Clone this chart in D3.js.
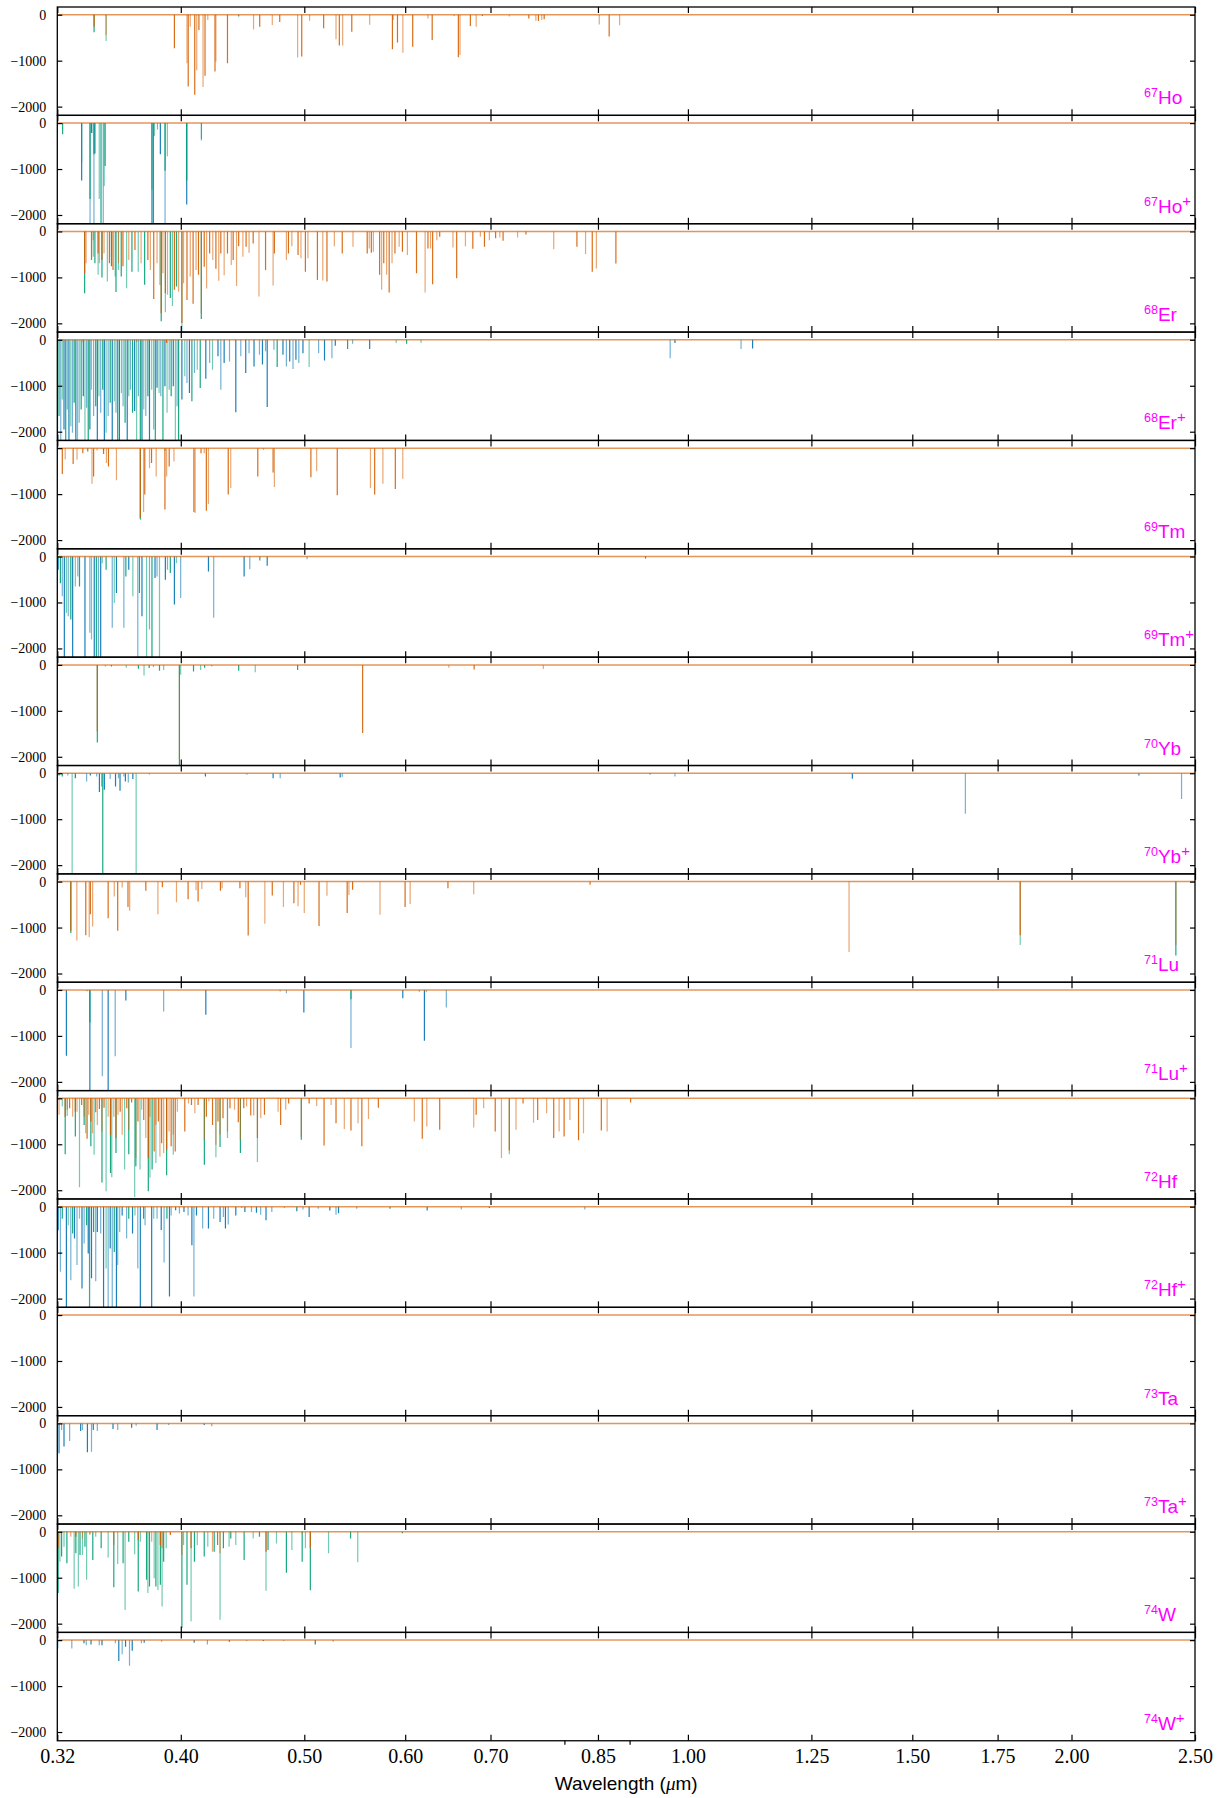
<!DOCTYPE html>
<html>
<head>
<meta charset="utf-8">
<script src="https://cdn.jsdelivr.net/npm/d3@7"></script>
<style>
  body { margin: 0; background: #fff; }
  svg { display: block; }
</style>
</head>
<body>
<div id="chart"></div>
<script>
// panel labels
const massNumbers = [67, 67, 68, 68, 69, 69, 70, 70, 71, 71, 72, 72, 73, 73, 74, 74];
const symbols = ["Ho", "Ho", "Er", "Er", "Tm", "Tm", "Yb", "Yb", "Lu", "Lu", "Hf", "Hf", "Ta", "Ta", "W", "W"];
const ionised = [false, true, false, true, false, true, false, true, false, true, false, true, false, true, false, true];

const xTicks = [0.32, 0.40, 0.50, 0.60, 0.70, 0.85, 1.00, 1.25, 1.50, 1.75, 2.00, 2.50];
const xMinorTicks = [0.8, 0.9];
const yTicks = [0, -1000, -2000];

// lines: [wavelength (um), depth]
const hoOrange = [[0.342,-260],[0.3495,-440],[0.3954,-730],[0.4045,-1055],[0.4054,-1560],[0.4069,-260],[0.4102,-1740],[0.4117,-1210],[0.4133,-330],[0.4164,-1575],[0.4179,-1330],[0.42,-115],[0.4255,-1235],[0.4262,-1020],[0.4352,-1055],[0.4562,-320],[0.4613,-260],[0.4719,-225],[0.4783,-160],[0.494,-930],[0.4977,-910],[0.5048,-130],[0.5178,-295],[0.5295,-535],[0.5327,-670],[0.5359,-670],[0.5448,-370],[0.5627,-220],[0.5863,-750],[0.5872,-115],[0.5917,-605],[0.5975,-825],[0.6082,-695],[0.6252,-80],[0.63,-550],[0.6555,-30],[0.6605,-925],[0.6625,-875],[0.675,-245],[0.6821,-260],[0.6898,-30],[0.7242,-40],[0.7502,-80],[0.7598,-130],[0.7633,-135],[0.7679,-115],[0.7713,-100],[0.852,-215],[0.8674,-475],[0.8839,-230]];
const hoGreen = [[0.342,-380],[0.3495,-570],[0.4441,-40]];
const hoBlue = [];

const hoPlusOrange = [];
const hoPlusGreen = [[0.3231,-245],[0.3344,-860],[0.3395,-1650],[0.3405,-210],[0.3419,-680],[0.3452,-1650],[0.3463,-2300],[0.3483,-1370],[0.3489,-935],[0.3797,-1450],[0.3807,-2300],[0.3814,-280],[0.3888,-1040],[0.3904,-720],[0.4043,-1250],[0.4152,-340]];
const hoPlusBlue = [[0.3344,-1250],[0.3395,-2300],[0.3405,-215],[0.3419,-2300],[0.3425,-660],[0.3477,-2300],[0.3797,-2300],[0.3835,-140],[0.3855,-680],[0.3888,-2300],[0.4043,-1770],[0.4152,-380]];

const erOrange = [[0.3362,-910],[0.3371,-690],[0.3404,-620],[0.3415,-190],[0.3445,-480],[0.3453,-690],[0.3469,-620],[0.3482,-480],[0.3516,-690],[0.3529,-550],[0.3539,-840],[0.3574,-690],[0.3603,-760],[0.3641,-620],[0.3682,-405],[0.3723,-690],[0.3769,-620],[0.3786,-840],[0.3809,-1470],[0.3832,-690],[0.3861,-1780],[0.3873,-910],[0.389,-1345],[0.3905,-1380],[0.3954,-1270],[0.3984,-1310],[0.4008,-1990],[0.402,-1130],[0.4045,-1490],[0.4069,-980],[0.409,-1575],[0.4112,-840],[0.413,-945],[0.4151,-1780],[0.4173,-770],[0.4191,-1240],[0.4214,-480],[0.4238,-620],[0.4262,-810],[0.4284,-1075],[0.43,-480],[0.4326,-955],[0.4352,-480],[0.4382,-730],[0.4397,-620],[0.4424,-1185],[0.4441,-320],[0.4475,-550],[0.4501,-335],[0.4525,-465],[0.4559,-260],[0.4607,-1415],[0.4662,-840],[0.4726,-1175],[0.4737,-480],[0.4841,-620],[0.4859,-480],[0.4889,-320],[0.4944,-515],[0.497,-585],[0.501,-875],[0.5033,-585],[0.512,-1055],[0.517,-1070],[0.5209,-1090],[0.5279,-320],[0.5355,-480],[0.546,-335],[0.5602,-480],[0.5623,-370],[0.5644,-465],[0.5665,-440],[0.5729,-945],[0.575,-1270],[0.5772,-690],[0.5802,-945],[0.5829,-1330],[0.5859,-690],[0.589,-480],[0.5935,-335],[0.597,-440],[0.6024,-510],[0.6124,-910],[0.622,-1330],[0.6252,-370],[0.6281,-370],[0.6305,-1150],[0.6353,-190],[0.6386,-115],[0.6541,-350],[0.6585,-1020],[0.669,-320],[0.678,-375],[0.6873,-115],[0.6924,-335],[0.6986,-190],[0.7065,-150],[0.7119,-130],[0.7161,-200],[0.7351,-130],[0.7463,-65],[0.7847,-390],[0.8183,-335],[0.8312,-490],[0.8413,-875],[0.8476,-805],[0.878,-695]];
const erGreen = [[0.3362,-1345],[0.3415,-550],[0.3425,-690],[0.3445,-945],[0.3469,-1000],[0.3503,-1090],[0.3529,-760],[0.3553,-980],[0.3558,-1320],[0.3574,-840],[0.3592,-980],[0.3627,-1235],[0.3662,-875],[0.3704,-875],[0.3747,-1160],[0.3852,-1165],[0.3861,-1955],[0.389,-1760],[0.3925,-1450],[0.394,-1620],[0.3969,-1200],[0.4008,-2180],[0.4151,-1905]];
const erBlue = [];

const erPlusOrange = [[0.3354,-60],[0.3693,-50],[0.3899,-70]];
const erPlusGreen = [[0.321,-1660],[0.3229,-1300],[0.3249,-2300],[0.3279,-1880],[0.3299,-1370],[0.3319,-2300],[0.3341,-1515],[0.3364,-2300],[0.3384,-2300],[0.3404,-1085],[0.343,-1445],[0.345,-1230],[0.3474,-1085],[0.3495,-2020],[0.3521,-1370],[0.3547,-1335],[0.3569,-2300],[0.3593,-1155],[0.3617,-1805],[0.3641,-1230],[0.3666,-1590],[0.3693,-2300],[0.3718,-2300],[0.3741,-1515],[0.3769,-1230],[0.3795,-1085],[0.382,-2300],[0.3846,-1155],[0.3873,-2300],[0.3902,-1590],[0.3931,-1230],[0.3961,-2300],[0.3984,-2300],[0.4029,-795],[0.4081,-1335],[0.4121,-650],[0.4143,-1050],[0.4236,-650],[0.4761,-590],[0.5044,-590],[0.5407,-200],[0.5903,-70],[0.6015,-85],[0.6174,-70]];
const erPlusBlue = [[0.3201,-2300],[0.322,-2300],[0.3239,-1950],[0.3258,-1515],[0.3268,-2300],[0.3289,-2020],[0.3309,-2300],[0.3329,-1805],[0.3354,-1230],[0.3374,-1480],[0.3394,-1950],[0.3417,-1660],[0.344,-2300],[0.3461,-1590],[0.3484,-2300],[0.3508,-1660],[0.3534,-2300],[0.3558,-1590],[0.358,-2300],[0.3604,-1445],[0.3631,-2300],[0.3652,-1085],[0.368,-1550],[0.3705,-1230],[0.3729,-2300],[0.3755,-1660],[0.378,-2300],[0.3809,-1950],[0.3832,-1045],[0.3858,-1230],[0.3887,-1010],[0.3917,-1085],[0.3946,-1010],[0.3973,-1445],[0.4008,-1300],[0.4045,-940],[0.4063,-1155],[0.41,-720],[0.4185,-850],[0.4214,-505],[0.4278,-360],[0.43,-1085],[0.4326,-505],[0.4368,-470],[0.4418,-1575],[0.4458,-360],[0.4498,-720],[0.4525,-290],[0.4566,-580],[0.4611,-325],[0.4636,-540],[0.4662,-250],[0.4676,-1460],[0.4733,-215],[0.4811,-325],[0.4841,-580],[0.487,-470],[0.4899,-635],[0.4925,-435],[0.4951,-505],[0.4988,-290],[0.5131,-290],[0.5186,-450],[0.5256,-400],[0.5288,-130],[0.5456,-85],[0.5627,-200],[0.9685,-400],[0.9769,-70],[1.1008,-200],[1.124,-190]];

const tmOrange = [[0.3229,-565],[0.3246,-240],[0.3293,-345],[0.3316,-250],[0.3351,-110],[0.3407,-775],[0.3417,-615],[0.3438,-50],[0.3479,-125],[0.3497,-325],[0.351,-400],[0.3561,-700],[0.3718,-1515],[0.374,-1390],[0.3748,-1010],[0.378,-435],[0.3794,-325],[0.3826,-615],[0.3887,-1335],[0.3899,-615],[0.3917,-400],[0.3951,-290],[0.4096,-1390],[0.4105,-1410],[0.4149,-110],[0.4173,-110],[0.4189,-1360],[0.4205,-1215],[0.4358,-1010],[0.4378,-865],[0.4597,-615],[0.4645,-40],[0.4726,-530],[0.4737,-845],[0.506,-635],[0.5113,-505],[0.5307,-1025],[0.5635,-865],[0.5678,-1010],[0.5763,-775],[0.5894,-890],[0.5974,-665]];
const tmGreen = [[0.3381,-70],[0.3479,-60],[0.3718,-1550],[0.3887,-60]];
const tmBlue = [];

const tmPlusOrange = [];
const tmPlusGreen = [[0.3218,-580],[0.3253,-1230],[0.3279,-1370],[0.3306,-650],[0.3331,-650],[0.3404,-1805],[0.3434,-2300],[0.3471,-145],[0.3495,-290],[0.3547,-1010],[0.3622,-435],[0.3668,-865],[0.3712,-795],[0.376,-2300],[0.3797,-2300],[0.3849,-2300],[0.3925,-360],[0.3969,-145],[0.4614,-85]];
const tmPlusBlue = [[0.3205,-290],[0.3229,-865],[0.3241,-2300],[0.3264,-1300],[0.329,-2300],[0.3321,-435],[0.3364,-2300],[0.3394,-1660],[0.3421,-2300],[0.3447,-2300],[0.3461,-2300],[0.3534,-1550],[0.3561,-795],[0.3609,-1550],[0.3641,-290],[0.3701,-2300],[0.3729,-1300],[0.378,-1590],[0.3818,-470],[0.3832,-435],[0.389,-505],[0.3905,-290],[0.3954,-1045],[0.3999,-900],[0.4205,-325],[0.4245,-1335],[0.4485,-435],[0.4531,-275],[0.4676,-200],[0.5025,-60],[0.9263,-45]];

const ybOrange = [[0.344,-1445],[0.399,-2060],[0.5556,-1480],[0.6492,-60],[0.6796,-100],[0.7701,-90]];
const ybGreen = [[0.344,-1690],[0.349,-35],[0.3529,-35],[0.3625,-60],[0.3705,-85],[0.3743,-230],[0.3778,-70],[0.3807,-45],[0.3849,-130],[0.3878,-110],[0.399,-2300],[0.3999,-215],[0.4093,-145],[0.4146,-110],[0.4176,-60],[0.423,-35],[0.4441,-130],[0.4576,-160],[0.494,-110]];
const ybBlue = [];

const ybPlusOrange = [];
const ybPlusGreen = [[0.3229,-70],[0.3287,-2300],[0.3474,-2300],[0.369,-2300]];
const ybPlusBlue = [[0.321,-50],[0.3261,-50],[0.3306,-110],[0.3374,-180],[0.3397,-50],[0.3436,-70],[0.3453,-410],[0.3467,-290],[0.3484,-360],[0.3521,-125],[0.3555,-290],[0.3574,-110],[0.3584,-380],[0.3609,-70],[0.3619,-180],[0.3638,-200],[0.3668,-125],[0.378,-25],[0.4182,-70],[0.4508,-35],[0.4726,-110],[0.4787,-110],[0.5335,-95],[0.5355,-80],[0.934,-25],[0.9769,-70],[1.346,-120],[1.651,-880],[2.259,-50],[2.44,-560]];

const luOrange = [[0.3279,-1070],[0.3315,-1280],[0.3369,-1170],[0.339,-1205],[0.3397,-710],[0.3411,-975],[0.3508,-795],[0.3547,-325],[0.3569,-1070],[0.3598,-130],[0.3636,-555],[0.3647,-635],[0.3755,-200],[0.3838,-710],[0.3869,-125],[0.3969,-450],[0.4053,-385],[0.4112,-190],[0.4127,-435],[0.4155,-160],[0.4297,-200],[0.431,-145],[0.4451,-145],[0.4498,-340],[0.4518,-1175],[0.4656,-915],[0.4719,-305],[0.4815,-550],[0.4907,-470],[0.4944,-535],[0.4966,-70],[0.5,-685],[0.5135,-965],[0.5209,-310],[0.5403,-685],[0.542,-290],[0.5456,-175],[0.5733,-720],[0.5999,-550],[0.6054,-485],[0.6482,-145],[0.6791,-275],[0.838,-70],[1.338,-1530],[1.823,-1170],[2.415,-1380]];
const luGreen = [[0.3279,-1120],[1.823,-1380],[2.415,-1610]];
const luBlue = [];

const luPlusOrange = [];
const luPlusGreen = [[0.3394,-700],[0.4787,-35],[0.544,-200],[0.6234,-50]];
const luPlusBlue = [[0.3253,-1430],[0.3377,-30],[0.3394,-2300],[0.3471,-1880],[0.3508,-2300],[0.3553,-1445],[0.3622,-230],[0.3878,-470],[0.4185,-540],[0.4841,-70],[0.4996,-490],[0.544,-1265],[0.5974,-180],[0.6155,-40],[0.6212,-1105],[0.6463,-380]];

const hfOrange = [[0.32,-720],[0.321,-360],[0.3246,-400],[0.3258,-250],[0.3272,-215],[0.329,-400],[0.3306,-290],[0.3316,-290],[0.3344,-145],[0.3359,-400],[0.3377,-880],[0.3387,-360],[0.34,-505],[0.341,-760],[0.343,-305],[0.344,-580],[0.3453,-230],[0.3469,-720],[0.3482,-205],[0.3508,-400],[0.3523,-795],[0.3544,-400],[0.3558,-865],[0.3571,-360],[0.3585,-290],[0.3598,-795],[0.3628,-215],[0.3641,-690],[0.366,-90],[0.3688,-1300],[0.3702,-505],[0.3727,-250],[0.3741,-470],[0.3755,-865],[0.3772,-1300],[0.3783,-400],[0.3812,-1155],[0.3824,-580],[0.3841,-505],[0.3852,-1265],[0.3864,-975],[0.3878,-1190],[0.3899,-1120],[0.3916,-720],[0.3931,-1045],[0.3946,-795],[0.396,-1155],[0.3975,-290],[0.4029,-720],[0.4056,-110],[0.4078,-145],[0.4103,-325],[0.4127,-145],[0.4174,-905],[0.4189,-400],[0.4208,-70],[0.4236,-580],[0.4262,-1010],[0.4278,-505],[0.4294,-795],[0.4317,-435],[0.4352,-720],[0.4372,-215],[0.4408,-250],[0.4438,-520],[0.4455,-905],[0.4482,-215],[0.4505,-180],[0.4539,-375],[0.4563,-375],[0.4594,-865],[0.4622,-435],[0.4653,-360],[0.4769,-290],[0.4791,-580],[0.4835,-250],[0.4861,-110],[0.4973,-830],[0.5044,-110],[0.5113,-165],[0.5182,-1025],[0.5248,-145],[0.5295,-540],[0.5375,-665],[0.544,-700],[0.551,-540],[0.5548,-1045],[0.5615,-450],[0.5716,-205],[0.61,-505],[0.6188,-880],[0.6239,-615],[0.6386,-685],[0.6791,-635],[0.6821,-360],[0.6914,-215],[0.706,-720],[0.714,-1300],[0.7242,-1135],[0.733,-685],[0.7424,-110],[0.7566,-530],[0.7623,-470],[0.7747,-325],[0.7847,-865],[0.7924,-720],[0.7996,-830],[0.808,-470],[0.8207,-915],[0.8281,-760],[0.8552,-700],[0.8642,-720],[0.9017,-90]];
const hfGreen = [[0.32,-1190],[0.3229,-180],[0.3246,-1215],[0.3258,-385],[0.3306,-830],[0.3331,-1935],[0.3359,-580],[0.3369,-760],[0.34,-1045],[0.342,-1230],[0.3469,-1830],[0.3495,-2020],[0.3523,-1625],[0.3531,-1720],[0.3558,-1190],[0.3614,-1550],[0.3641,-1215],[0.368,-2150],[0.3688,-1480],[0.3716,-1550],[0.3772,-2020],[0.3783,-1730],[0.3798,-1550],[0.3824,-1410],[0.3899,-1675],[0.3946,-1230],[0.4174,-1445],[0.4262,-1285],[0.4294,-1060],[0.4352,-865],[0.4455,-1190],[0.4594,-1385],[0.4973,-900],[0.7242,-1215]];
const hfBlue = [];

const hfPlusOrange = [];
const hfPlusGreen = [[0.3229,-260],[0.3264,-405],[0.329,-585],[0.3331,-260],[0.3374,-405],[0.3392,-2300],[0.3417,-550],[0.3495,-1345],[0.3547,-985],[0.3569,-1270],[0.3641,-260],[0.3682,-190],[0.374,-260],[0.3809,-260],[0.3901,-260],[0.4823,-30],[0.5837,-45]];
const hfPlusBlue = [[0.3205,-515],[0.3218,-1415],[0.3253,-2300],[0.3279,-1600],[0.3301,-690],[0.3316,-1270],[0.3346,-1780],[0.3359,-800],[0.3384,-1020],[0.3392,-2300],[0.3404,-1560],[0.343,-1620],[0.344,-550],[0.3461,-585],[0.3479,-2300],[0.3508,-2300],[0.3521,-910],[0.3534,-2300],[0.3561,-2300],[0.3582,-550],[0.3598,-190],[0.3627,-695],[0.3666,-585],[0.3701,-1345],[0.3718,-2300],[0.375,-405],[0.3795,-2300],[0.3832,-260],[0.3861,-510],[0.3881,-1215],[0.3919,-1955],[0.3931,-190],[0.3963,-80],[0.399,-150],[0.4023,-115],[0.4053,-190],[0.4081,-840],[0.4096,-1955],[0.4115,-190],[0.4161,-475],[0.4205,-475],[0.4245,-260],[0.4294,-335],[0.432,-225],[0.4336,-475],[0.4358,-390],[0.4418,-190],[0.4465,-30],[0.4491,-115],[0.4545,-115],[0.4586,-130],[0.4621,-175],[0.4666,-295],[0.4715,-115],[0.4933,-100],[0.4988,-60],[0.5044,-225],[0.5128,-45],[0.5236,-85],[0.5295,-175],[0.5319,-145],[0.5497,-45],[0.6243,-85],[0.664,-60],[0.6986,-30],[0.83,-60]];

const taOrange = [];
const taGreen = [];
const taBlue = [];

const taPlusOrange = [];
const taPlusGreen = [];
const taPlusBlue = [[0.321,-650],[0.3225,-145],[0.3239,-505],[0.3272,-385],[0.3338,-165],[0.3349,-145],[0.3379,-630],[0.3404,-615],[0.3415,-145],[0.344,-165],[0.3539,-120],[0.3569,-145],[0.366,-95],[0.369,-50],[0.3832,-145],[0.3913,-35],[0.4173,-35],[0.423,-60]];

const wOrange = [[0.3205,-360],[0.3279,-110],[0.3309,-110],[0.3349,-145],[0.3394,-60],[0.3544,-290],[0.3704,-180],[0.3795,-215],[0.3855,-290],[0.3867,-360],[0.3925,-70],[0.4008,-505],[0.4075,-360],[0.4236,-435],[0.4275,-290],[0.4294,-470],[0.4666,-435],[0.4981,-35],[0.5055,-360]];
const wGreen = [[0.3205,-1335],[0.3215,-650],[0.3225,-540],[0.3239,-325],[0.3256,-685],[0.3299,-1240],[0.3309,-470],[0.3324,-1190],[0.3334,-505],[0.3349,-505],[0.3364,-325],[0.3374,-1045],[0.3412,-615],[0.343,-110],[0.3464,-360],[0.3508,-560],[0.3544,-1210],[0.3569,-700],[0.3604,-685],[0.3617,-1700],[0.3641,-215],[0.368,-490],[0.3704,-1300],[0.3718,-215],[0.376,-1045],[0.3769,-1335],[0.378,-1190],[0.3812,-1010],[0.3824,-1190],[0.3838,-1265],[0.3855,-1155],[0.3867,-1625],[0.3878,-650],[0.3896,-360],[0.4008,-2095],[0.402,-290],[0.4045,-1155],[0.4075,-1950],[0.41,-650],[0.4121,-290],[0.4173,-540],[0.42,-325],[0.4249,-435],[0.4294,-1915],[0.432,-360],[0.4365,-325],[0.4378,-145],[0.4418,-290],[0.4485,-615],[0.4559,-145],[0.4611,-110],[0.4666,-1285],[0.4683,-395],[0.4755,-255],[0.4841,-890],[0.4889,-395],[0.4981,-650],[0.501,-360],[0.5055,-1275],[0.5224,-470],[0.5436,-145],[0.5507,-665],[0.597,-35]];
const wBlue = [];

const wPlusOrange = [];
const wPlusGreen = [];
const wPlusBlue = [[0.3202,-180],[0.3285,-180],[0.3358,-70],[0.3372,-110],[0.3401,-95],[0.3452,-110],[0.3469,-110],[0.3554,-70],[0.3576,-455],[0.3598,-310],[0.362,-145],[0.3646,-560],[0.3664,-230],[0.3725,-70],[0.3744,-55],[0.3864,-35],[0.4098,-55],[0.4197,-95],[0.4367,-35],[0.4506,-20],[0.4644,-20],[0.4817,-20],[0.51,-95],[0.5268,-35]];

const panels = [
  { orange: hoOrange, green: hoGreen, blue: hoBlue },
  { orange: hoPlusOrange, green: hoPlusGreen, blue: hoPlusBlue },
  { orange: erOrange, green: erGreen, blue: erBlue },
  { orange: erPlusOrange, green: erPlusGreen, blue: erPlusBlue },
  { orange: tmOrange, green: tmGreen, blue: tmBlue },
  { orange: tmPlusOrange, green: tmPlusGreen, blue: tmPlusBlue },
  { orange: ybOrange, green: ybGreen, blue: ybBlue },
  { orange: ybPlusOrange, green: ybPlusGreen, blue: ybPlusBlue },
  { orange: luOrange, green: luGreen, blue: luBlue },
  { orange: luPlusOrange, green: luPlusGreen, blue: luPlusBlue },
  { orange: hfOrange, green: hfGreen, blue: hfBlue },
  { orange: hfPlusOrange, green: hfPlusGreen, blue: hfPlusBlue },
  { orange: taOrange, green: taGreen, blue: taBlue },
  { orange: taPlusOrange, green: taPlusGreen, blue: taPlusBlue },
  { orange: wOrange, green: wGreen, blue: wBlue },
  { orange: wPlusOrange, green: wPlusGreen, blue: wPlusBlue }
];

const width = 1226, height = 1798;
const left = 57.3, right = 1195;
const top0 = 7, panelH = 108.36;
const colors = { blue: "#0072b2", green: "#009e73", orange: "#d55e00" };

const x = d3.scaleLog().domain([0.32, 2.5]).range([left, right]);
const y = d3.scaleLinear().domain([-2190, 168]).range([panelH, 0]);

const svg = d3.select("#chart")
  .append("svg")
  .attr("width", width)
  .attr("height", height)
  .style("background-color", "#fff");

const serif = "'Liberation Serif', 'DejaVu Serif', serif";
const sans = "'Liberation Sans', 'DejaVu Sans', sans-serif";

panels.forEach((p, i) => {
  const g = svg.append("g").attr("transform", `translate(0,${top0 + i * panelH})`);

  g.append("clipPath").attr("id", "clip" + i)
    .append("rect").attr("x", left).attr("y", 0).attr("width", right - left).attr("height", panelH);

  const plot = g.append("g").attr("clip-path", `url(#clip${i})`);

  ["blue", "green", "orange"].forEach((key) => {
    plot.append("g")
      .attr("stroke", colors[key])
      .attr("stroke-width", 1.2)
      .selectAll("line")
      .data(p[key])
      .join("line")
      .attr("x1", (d) => x(d[0]))
      .attr("x2", (d) => x(d[0]))
      .attr("y1", y(0))
      .attr("y2", (d) => y(d[1]))
      .attr("stroke-opacity", (d, j) => (j % 2 ? 0.55 : 0.9));
  });

  // baseline
  plot.append("line")
    .attr("x1", left).attr("x2", right)
    .attr("y1", y(0)).attr("y2", y(0))
    .attr("stroke", colors.orange)
    .attr("stroke-opacity", 0.65)
    .attr("stroke-width", 1.5);

  // ticks
  const isLast = i === panels.length - 1;
  const tickStyle = (sel) => {
    sel.select(".domain").remove();
    sel.selectAll(".tick line").attr("stroke", "#000").attr("stroke-width", 1.2);
  };

  g.append("g")
    .call(d3.axisTop(x).tickValues(xTicks).tickSize(-6).tickFormat(""))
    .call(tickStyle);

  const bottom = g.append("g")
    .attr("transform", `translate(0,${panelH})`)
    .call(d3.axisBottom(x).tickValues(xTicks).tickSize(-6).tickPadding(8)
      .tickFormat(isLast ? d3.format(".2f") : ""))
    .call(tickStyle);
  bottom.selectAll("text")
    .attr("font-family", serif)
    .attr("font-size", 20)
    .attr("fill", "#000");

  if (isLast) {
    g.append("g")
      .attr("transform", `translate(0,${panelH})`)
      .call(d3.axisBottom(x).tickValues(xMinorTicks).tickSize(4).tickFormat(""))
      .call(tickStyle);
  }

  const yl = g.append("g")
    .attr("transform", `translate(${left},0)`)
    .call(d3.axisLeft(y).tickValues(yTicks).tickSize(-5).tickPadding(11).tickFormat(d3.format("d")))
    .call(tickStyle);
  yl.selectAll("text")
    .attr("font-family", serif)
    .attr("font-size", 14)
    .attr("fill", "#000");

  g.append("g")
    .attr("transform", `translate(${right},0)`)
    .call(d3.axisRight(y).tickValues(yTicks).tickSize(-5).tickFormat(""))
    .call(tickStyle);

  // frame
  g.append("rect")
    .attr("x", left).attr("y", 0)
    .attr("width", right - left).attr("height", panelH)
    .attr("fill", "none")
    .attr("stroke", "#000")
    .attr("stroke-width", 1.3);

  // element label
  const label = g.append("text")
    .attr("x", 1144)
    .attr("y", panelH - 11)
    .attr("font-family", sans)
    .attr("fill", "#ff00ff");
  label.append("tspan").attr("font-size", 12.5).attr("dy", -7).text(massNumbers[i]);
  label.append("tspan").attr("font-size", 19).attr("dy", 7).text(symbols[i]);
  if (ionised[i]) {
    label.append("tspan").attr("font-size", 15).attr("dy", -7).text("+");
  }
});

// x axis title
const title = svg.append("text")
  .attr("x", (left + right) / 2)
  .attr("y", 1790)
  .attr("text-anchor", "middle")
  .attr("font-family", sans)
  .attr("font-size", 19)
  .attr("fill", "#000");
title.append("tspan").text("Wavelength (");
title.append("tspan").attr("font-family", serif).attr("font-style", "italic").text("μ");
title.append("tspan").text("m)");
</script>
</body>
</html>
